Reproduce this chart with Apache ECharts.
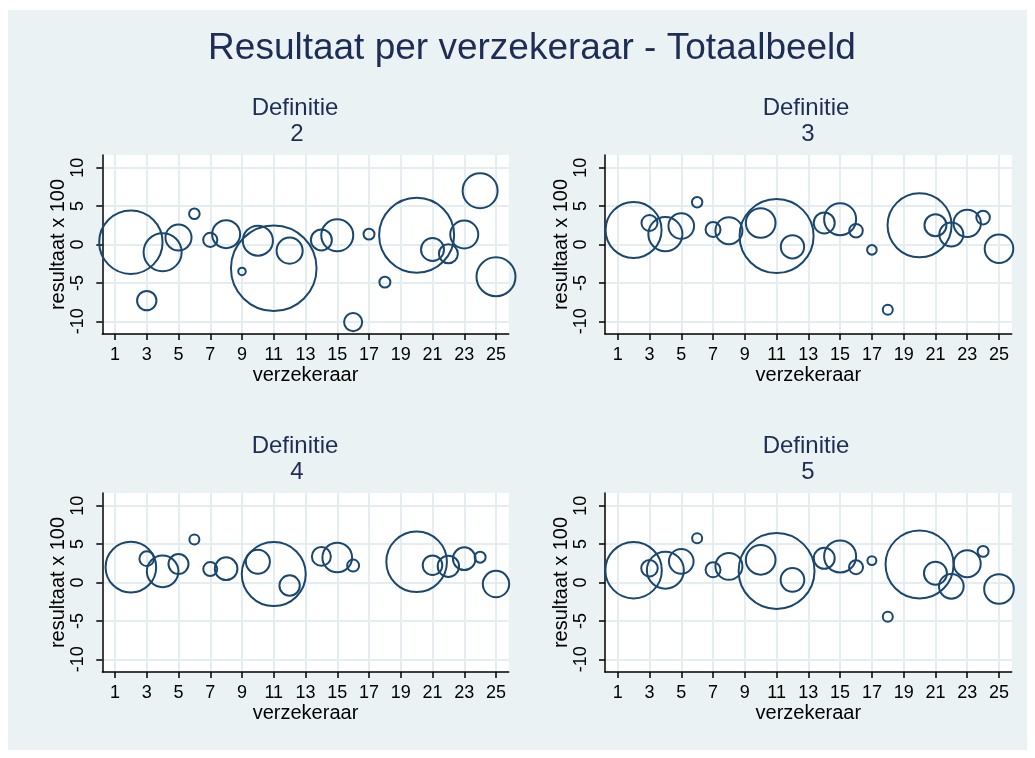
<!DOCTYPE html>
<html><head><meta charset="utf-8">
<script src="https://cdn.jsdelivr.net/npm/echarts@6/dist/echarts.min.js"></script>
<style>
html,body{margin:0;padding:0;background:#fff;}
#bg{position:absolute;left:8px;top:10px;width:1019px;height:740px;background:#EAF2F3;}
#c{position:absolute;left:0;top:0;width:1035px;height:758px;}
</style>
</head><body><div id="bg"></div><div id="c"></div>
<script>
// ---- data ----
const insurers = [1,2,3,4,5,6,7,8,9,10,11,12,13,14,15,16,17,18,19,20,21,22,23,24,25];
const xTicks = [1,3,5,7,9,11,13,15,17,19,21,23,25];
const yTicks = [-10,-5,0,5,10];
const mainTitle = 'Resultaat per verzekeraar - Totaalbeeld';
const panelLabel = 'Definitie';
const definitions = ['2','3','4','5'];
const xName = 'verzekeraar';
const yName = 'resultaat x 100';

// result (x 100) per insurer 1..25, null = no bubble
const def2Result = [null,0.3,-7.3,-1.0,0.9,4.0,0.6,1.35,-3.5,0.5,-3.1,-0.8,null,0.6,1.2,-10.1,1.35,-4.9,null,1.2,-0.65,-1.2,1.3,7.0,-4.2];
const def2Weight = [null,50.2,4.7,18.1,8.5,1.4,2.5,9.8,0.7,11.3,91.6,8.5,null,5.5,12.8,4.1,1.5,1.5,null,70.3,6.6,4.5,9.8,15.3,19.0];
const def3Result = [null,1.9,2.8,1.35,2.4,5.5,1.95,1.8,null,2.8,1.1,-0.3,null,2.8,3.3,1.8,-0.7,-8.5,null,2.5,2.5,1.3,2.75,3.5,-0.55];
const def3Weight = [null,39.2,3.2,14.5,8.2,1.35,2.8,9.1,null,11.0,68.5,6.8,null,5.5,12.8,2.3,1.15,1.25,null,51.2,6.05,7.2,9.4,2.3,10.2];
const def4Result = [null,2.0,3.1,1.45,2.4,5.6,1.75,1.8,null,2.7,1.1,-0.4,null,3.4,3.25,2.2,null,null,null,2.7,2.25,2.1,3.1,3.3,-0.2];
const def4Weight = [null,32.0,2.7,12.5,5.0,1.25,2.45,6.4,null,7.2,51.2,5.2,null,4.5,11.0,1.8,null,null,null,45.9,4.8,5.7,6.4,1.5,8.7];
const def5Result = [null,1.6,1.85,1.6,2.75,5.75,1.65,2.1,null,2.95,1.5,0.35,null,3.15,3.4,2.0,2.85,-4.45,null,2.35,1.2,-0.5,2.45,4.05,-0.85];
const def5Weight = [null,39.8,3.4,17.1,7.6,1.25,2.8,9.1,null,11.0,72.0,7.0,null,5.5,12.8,2.45,1.0,1.25,null,57.8,6.6,7.6,9.1,1.5,11.0];

const results = [def2Result, def3Result, def4Result, def5Result];
const weights = [def2Weight, def3Weight, def4Weight, def5Weight];

// ---- styling / layout ----
const FONT = 'Liberation Sans, Arial, sans-serif';
const NAVY = '#1a476f';
const TITLE_C = '#1e2d55';
const GRID_C = '#E4EDF0';
const BUBBLE_SCALE = Math.sqrt(20);
const grids = [
  {left:102.3, top:155, width:406.4, height:179},
  {left:605,   top:155, width:406.7, height:179},
  {left:102.3, top:493, width:406.4, height:179},
  {left:605,   top:493, width:406.7, height:179}
];
const subTitlePos = [[295,108],[806,108],[295,446],[806,446]];

const option = {
  backgroundColor: 'transparent',
  animation: false,
  grid: grids.map(g => Object.assign({show:true, backgroundColor:'#fff', borderWidth:0, containLabel:false}, g)),
  xAxis: grids.map((g,i) => ({
    type:'value', gridIndex:i, min:0.2, max:25.8,
    name:xName, nameLocation:'middle', nameGap:31,
    nameTextStyle:{fontSize:20, color:'#000', fontFamily:FONT},
    axisLine:{show:true, onZero:false, lineStyle:{color:'#000', width:1.5}},
    axisTick:{show:true, customValues:xTicks, length:6, lineStyle:{color:'#000', width:1.5}},
    axisLabel:{customValues:xTicks, fontSize:18, color:'#000', fontFamily:FONT, margin:12},
    splitLine:{show:true, lineStyle:{color:GRID_C, width:2}}
  })),
  yAxis: grids.map((g,i) => ({
    type:'value', gridIndex:i, min:-11.65, max:11.65,
    name:yName, nameLocation:'middle', nameGap:34, nameRotate:90,
    nameTextStyle:{fontSize:20, color:'#000', fontFamily:FONT},
    axisLine:{show:true, onZero:false, lineStyle:{color:'#000', width:1.5}},
    axisTick:{show:true, customValues:yTicks, length:6, lineStyle:{color:'#000', width:1.5}},
    axisLabel:{customValues:yTicks, rotate:90, fontSize:18, color:'#000', fontFamily:FONT, margin:15},
    splitLine:{show:true, lineStyle:{color:GRID_C, width:2}}
  })),
  series: results.map((res,i) => ({
    type:'scatter', xAxisIndex:i, yAxisIndex:i, silent:true, clip:false,
    symbol:'circle',
    symbolSize: d => 2 * Math.sqrt(d[2]) * BUBBLE_SCALE,
    itemStyle:{color:'rgba(0,0,0,0)', borderColor:NAVY, borderWidth:2, opacity:1},
    data: insurers.map((ins,k) => res[k] === null ? null : [ins, res[k], weights[i][k]]).filter(d => d)
  })),
  graphic: [
    {type:'text', x:532, y:48.5, style:{text:mainTitle, fontSize:37, fontFamily:FONT, fill:TITLE_C, textAlign:'center', textVerticalAlign:'middle'}}
  ].concat(...subTitlePos.map((p,i) => [
    {type:'text', x:p[0], y:p[1], style:{text:panelLabel, fontSize:24, fontFamily:FONT, fill:TITLE_C, textAlign:'center', textVerticalAlign:'middle'}},
    {type:'text', x:p[0]+2, y:p[1]+26, style:{text:definitions[i], fontSize:24, fontFamily:FONT, fill:TITLE_C, textAlign:'center', textVerticalAlign:'middle'}}
  ]))
};
const chart = echarts.init(document.getElementById('c'), null, {renderer:'canvas'});
chart.setOption(option);
</script>
</body></html>
